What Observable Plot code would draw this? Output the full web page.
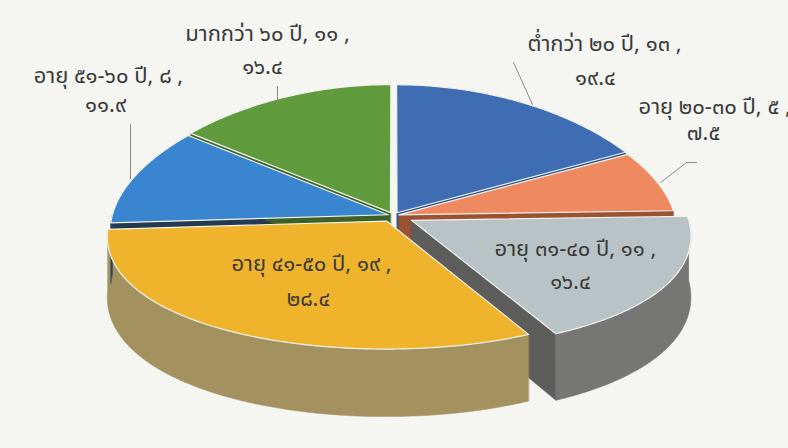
<!DOCTYPE html>
<html><head><meta charset="utf-8">
<script src="https://cdn.jsdelivr.net/npm/d3@7"></script>
<script src="https://cdn.jsdelivr.net/npm/@observablehq/plot@0.6"></script>
<style>
body{margin:0;background:#f5f5f2;}
#chart{width:788px;height:448px;overflow:hidden;}
</style>
</head><body><div id="chart"></div>
<script>
// ---- data ----
const categories = ["ต่ำกว่า ๒๐ ปี", "อายุ ๒๐-๓๐ ปี", "อายุ ๓๑-๔๐ ปี", "อายุ ๔๑-๕๐ ปี", "อายุ ๕๑-๖๐ ปี", "มากกว่า ๖๐ ปี"];
const counts = [13, 5, 11, 19, 8, 11];
const percents = [19.4, 7.5, 16.4, 28.4, 11.9, 16.4];

// ---- styles ----
const topColors  = ["#3e6db4", "#ef8a60", "#b9c3c5", "#f0b32c", "#3a85d0", "#5f9b3c"];
const sideColors = ["#2c4f86", "#b3613c", "#767674", "#a39160", "#28435f", "#466f2b"];
const wallColors = ["#2c4f86", "#9a5232", "#5d5d5b", "#8e7c46", "#243a50", "#3e6226"];
const explode = [0.025, 0.02, 0.075, 0.05, 0.02, 0.025];

// ---- layout (3D projection) ----
const W = 788, H = 448;
const cx = 393, cy = 215, rx = 276, ry = 128, depth = 60, kx = 0.12, skew = 0.15;
const labelPos = [
  {x1: 604, y1: 43, a1: "middle", x2: 595, y2: 77},
  {x1: 638, y1: 106, a1: "start", x2: 703, y2: 132},
  {x1: 575, y1: 248, a1: "middle", x2: 570, y2: 281},
  {x1: 311, y1: 263, a1: "middle", x2: 308, y2: 298},
  {x1: 108, y1: 75, a1: "middle", x2: 105, y2: 104},
  {x1: 267, y1: 33, a1: "middle", x2: 262, y2: 66}
];
const leaders = [
  [[513, 62], [532, 104]],
  [[660, 182], [686, 162], [696, 162]],
  null,
  null,
  [[130, 124], [130, 178]],
  [[277, 86], [277, 104]]
];

const thaiDigits = "๐๑๒๓๔๕๖๗๘๙";
const toThai = s => String(s).replace(/[0-9]/g, d => thaiDigits[+d]);

// apparent angle in the 3D view
const phi = t => t - skew * Math.sin(t);
const proj = (u, v, h) => {
  const s = 1 + kx * v;
  return [cx + rx * u * s, cy + ry * v + depth * h * s];
};

const arcs = d3.pie().sort(null)(counts);
const tops = [], rims = [], walls = [];
arcs.forEach((a, i) => {
  const p0 = phi(a.startAngle), p1 = phi(a.endAngle), mid = (p0 + p1) / 2;
  const du = explode[i] * Math.sin(mid), dv = -explode[i] * Math.cos(mid);
  const pt = (t, h) => proj(du + Math.sin(t), dv - Math.cos(t), h);
  const arcPts = (t0, t1, h) => {
    const n = Math.max(2, Math.ceil(Math.abs(t1 - t0) / 0.01));
    return d3.range(n + 1).map(k => pt(t0 + (t1 - t0) * k / n, h));
  };
  const c0 = proj(du, dv, 0), c1 = proj(du, dv, 1);
  tops.push([c0, ...arcPts(p0, p1, 0)].map(([x, y]) => ({x, y, id: "t" + i, fill: topColors[i]})));
  const lo = Math.max(p0, Math.PI / 2), hi = Math.min(p1, 3 * Math.PI / 2);
  if (hi > lo) {
    const pts = [...arcPts(lo, hi, 0), ...arcPts(hi, lo, 1)];
    rims.push(pts.map(([x, y]) => ({x, y, id: "r" + i, fill: sideColors[i]})));
  }
  const wall = (t, id) => {
    walls.push([c0, pt(t, 0), pt(t, 1), c1].map(([x, y]) => ({x, y, id, fill: wallColors[i]})));
  };
  if (Math.sin(p1) > 0.001) wall(p1, "we" + i);
  if (Math.sin(p0) < -0.001) wall(p0, "ws" + i);
});

const labels = [];
categories.forEach((cat, i) => {
  const L = labelPos[i];
  labels.push({x: L.x1, y: L.y1, anchor: L.a1, text: `${cat}, ${toThai(counts[i])} ,`});
  labels.push({x: L.x2, y: L.y2, anchor: "middle", text: toThai(percents[i].toFixed(1))});
});
const leaderData = leaders.flatMap((l, i) => l ? l.map(([x, y]) => ({x, y, id: "l" + i})) : []);

const font = "'Noto Sans Thai', 'Noto Sans', 'DejaVu Sans', sans-serif";
const textOpts = {x: "x", y: "y", text: "text", fontSize: 22, fill: "#3a3a3a", fontFamily: font};
const chart = Plot.plot({
  width: W, height: H, margin: 0,
  x: {domain: [0, W], range: [0, W], axis: null},
  y: {domain: [0, H], range: [0, H], axis: null},
  color: {type: "identity"},
  style: {background: "transparent", fontFamily: font},
  marks: [
    Plot.line(walls.flat(), {x: "x", y: "y", z: "id", fill: "fill", stroke: "fill", strokeWidth: 0.5, curve: "linear-closed"}),
    Plot.line(rims.flat(), {x: "x", y: "y", z: "id", fill: "fill", stroke: "fill", strokeWidth: 0.5, curve: "linear-closed"}),
    Plot.line(tops.flat(), {x: "x", y: "y", z: "id", fill: "fill", stroke: "#f2f2ee", strokeWidth: 1.2, curve: "linear-closed"}),
    Plot.line(leaderData, {x: "x", y: "y", z: "id", stroke: "#8a8a8a", strokeWidth: 1}),
    Plot.text(labels.filter(d => d.anchor === "middle"), {...textOpts, textAnchor: "middle"}),
    Plot.text(labels.filter(d => d.anchor === "start"), {...textOpts, textAnchor: "start"})
  ]
});
document.getElementById("chart").appendChild(chart);
</script>
</body></html>
